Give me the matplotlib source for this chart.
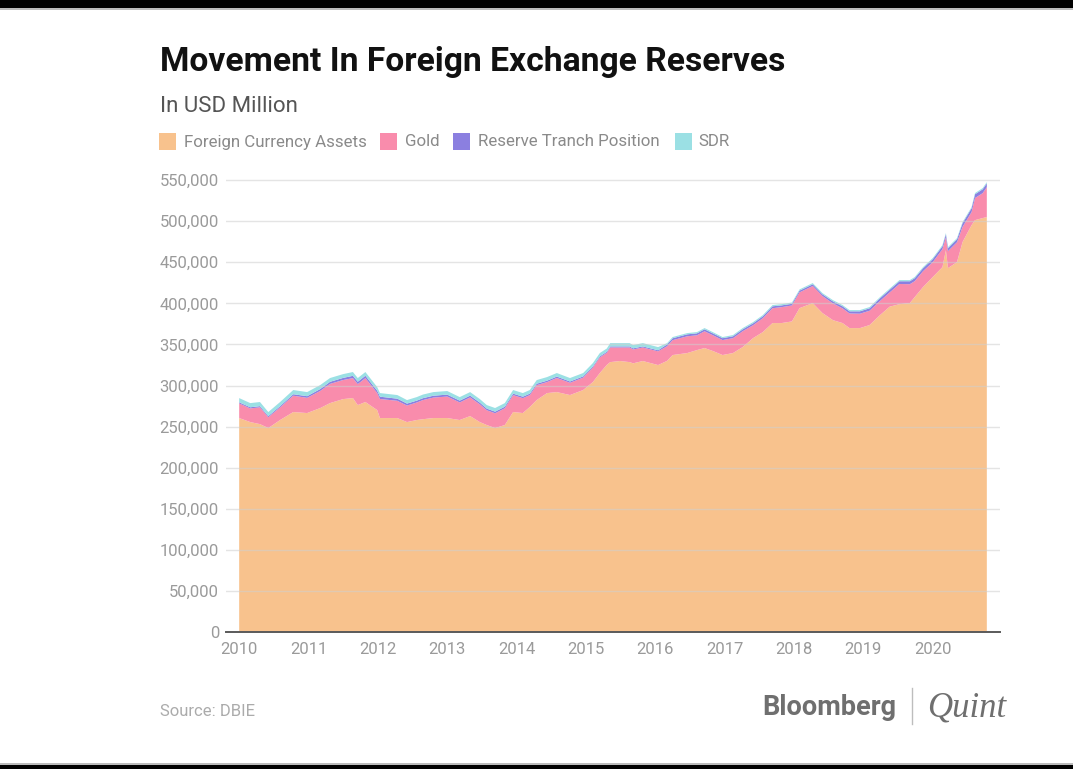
import matplotlib
matplotlib.use("Agg")
import matplotlib.pyplot as plt
from matplotlib.patches import Rectangle
from matplotlib.lines import Line2D
from matplotlib.ticker import FuncFormatter
import numpy as np

# ---- data (USD million) ----
dates = [2010.00, 2010.16, 2010.30, 2010.42, 2010.59, 2010.78, 2010.98,
         2011.17, 2011.31, 2011.50, 2011.64, 2011.71, 2011.82, 2011.99,
         2012.03, 2012.28, 2012.42, 2012.56, 2012.65, 2012.80,
         2013.00, 2013.18, 2013.33, 2013.47, 2013.57, 2013.69, 2013.83, 2013.95,
         2014.09, 2014.19, 2014.29, 2014.44, 2014.58, 2014.77, 2014.96,
         2015.10, 2015.20, 2015.30, 2015.35, 2015.49, 2015.63, 2015.68, 2015.82,
         2016.04, 2016.17, 2016.25, 2016.46, 2016.60, 2016.71, 2016.83, 2016.97,
         2017.12, 2017.26, 2017.41, 2017.55, 2017.69, 2017.82, 2017.97,
         2018.08, 2018.27, 2018.41, 2018.56, 2018.70, 2018.80, 2018.95,
         2019.09, 2019.24, 2019.38, 2019.52, 2019.67, 2019.74, 2019.86,
         2020.00, 2020.14, 2020.19, 2020.22, 2020.35, 2020.43, 2020.56,
         2020.61, 2020.72, 2020.78]

total_reserves = [284700, 278600, 279900, 267700, 279900, 294500, 292000,
                  300600, 309100, 313900, 316400, 309100, 316400, 298100,
                  290800, 288400, 282300, 285900, 289000, 292000,
                  293300, 285900, 292000, 283500, 276200, 272600, 278600, 294500,
                  290800, 294500, 306600, 310300, 315200, 309100, 315200,
                  327300, 339500, 345000, 351600, 351600, 351600, 349200, 351600,
                  346800, 351600, 359000, 363800, 365000, 369900, 365000, 359000,
                  361400, 369900, 377200, 385700, 397900, 399000, 401000,
                  417000, 424700, 412500, 404000, 397900, 391800, 391800,
                  395500, 407600, 418000, 428300, 428300, 432000, 444100,
                  455100, 470900, 485500, 468500, 479400, 498900, 517100,
                  534200, 540300, 547600]

foreign_currency_assets = [260400, 255500, 253000, 248200, 258000, 267700, 266500,
                           272600, 278600, 283500, 284700, 276200, 279900, 270100,
                           260400, 260400, 255500, 258000, 259000, 260400,
                           260400, 258000, 262800, 255500, 251900, 248200, 251900, 267700,
                           266500, 273800, 282300, 290800, 292000, 288400, 294500,
                           304200, 315200, 325000, 328500, 329800, 328500, 327000, 329800,
                           324900, 330000, 337100, 339500, 343100, 345600, 342000, 337100,
                           339500, 346800, 357700, 365000, 376000, 376000, 378000,
                           394200, 400300, 388200, 379600, 376000, 369900, 369900,
                           373600, 385700, 396000, 399000, 400300, 407600, 419800,
                           432000, 444100, 464800, 442900, 450200, 474600, 495200,
                           501300, 503800, 505000]

reserve_tranche = [1400, 1400, 1400, 1400, 1500, 1800, 2000,
                   2300, 2500, 2600, 2800, 2900, 2900, 2800,
                   2800, 2600, 2400, 2300, 2300, 2300,
                   2300, 2200, 2200, 2100, 2000, 2000, 1900, 1800,
                   1800, 1800, 1800, 1700, 1700, 1600, 1500,
                   1400, 1300, 1300, 1300, 1300, 1300, 1300, 1300,
                   1300, 2300, 2300, 2400, 2400, 2400, 2300, 2300,
                   2300, 2300, 2300, 2300, 2300, 2100, 2100,
                   2100, 2100, 2100, 2500, 2500, 2600, 2900,
                   3000, 3300, 3300, 3300, 3600, 3600, 3600,
                   3600, 3600, 3600, 3600, 3600, 4500, 4600,
                   4600, 4700, 4700]

sdr = [5100, 5100, 5000, 4900, 5000, 5100, 5000,
       4800, 4600, 4600, 4600, 4500, 4500, 4400,
       4400, 4400, 4300, 4300, 4400, 4400,
       4400, 4300, 4300, 4300, 4300, 4400, 4400, 4400,
       4400, 4400, 4400, 4400, 4300, 4200, 4100,
       4000, 4000, 4000, 4000, 4000, 4000, 4000, 4000,
       3900, 1500, 1500, 1500, 1500, 1500, 1500, 1400,
       1500, 1500, 1500, 1500, 1500, 1500, 1500,
       1500, 1500, 1500, 1500, 1500, 1500, 1500,
       1500, 1400, 1400, 1400, 1400, 1400, 1400,
       1400, 1400, 1400, 1400, 1400, 1400, 1400,
       1400, 1500, 1500]

series_names = ["Foreign Currency Assets", "Gold", "Reserve Tranch Position", "SDR"]
series_colors = ["#F8C28D", "#F98CAC", "#8B7FE0", "#9BE0E4"]

year_ticks = list(range(2010, 2021))
y_ticks = list(range(0, 550001, 50000))

# gold is the remainder between the total line and the other components
gold = [t - f - r - s for t, f, r, s in zip(total_reserves, foreign_currency_assets,
                                             reserve_tranche, sdr)]

# ---- figure ----
W, H = 1073, 769
fig = plt.figure(figsize=(W / 100, H / 100), dpi=100)
fig.patch.set_facecolor("white")
FONT = "Roboto"

def fx(px):
    return px / W

def fy(py):
    return 1 - py / H

# black frame bars top / bottom (screenshot border)
fig.patches.append(Rectangle((0, fy(8)), 1, 8 / H, transform=fig.transFigure,
                             facecolor="black", edgecolor="none"))
fig.patches.append(Rectangle((0, fy(10)), 1, 2 / H, transform=fig.transFigure,
                             facecolor="#bbbbbb", edgecolor="none"))
fig.patches.append(Rectangle((0, 0), 1, 4 / H, transform=fig.transFigure,
                             facecolor="black", edgecolor="none"))
fig.patches.append(Rectangle((0, 4 / H), 1, 2 / H, transform=fig.transFigure,
                             facecolor="#bbbbbb", edgecolor="none"))

ax_left, ax_right, ax_bottom, ax_top = 226, 1000, 632, 176
ax = fig.add_axes([fx(ax_left), fy(ax_bottom), (ax_right - ax_left) / W,
                   (ax_bottom - ax_top) / H])

ax.stackplot(dates, foreign_currency_assets, gold, reserve_tranche, sdr,
             colors=series_colors, linewidth=0, antialiased=True)

ax.set_xlim(2009.81, 2020.97)
ax.set_ylim(0, 555000)
ax.set_xticks(year_ticks)
ax.set_xticklabels([str(y) for y in year_ticks])
ax.set_yticks(y_ticks)
ax.yaxis.set_major_formatter(FuncFormatter(lambda v, p: f"{int(v):,}"))

for s in ["top", "right", "left"]:
    ax.spines[s].set_visible(False)
ax.spines["bottom"].set_color("#5a5a5a")
ax.spines["bottom"].set_linewidth(1.4)
ax.spines["bottom"].set_zorder(5)

ax.grid(axis="y", color="#cfcfcf", alpha=0.55, linewidth=1.0)
ax.grid(axis="x", visible=False)
ax.set_axisbelow(False)
ax.tick_params(axis="both", length=0, labelsize=12, labelcolor="#9a9a9a")
ax.tick_params(axis="y", pad=5)
ax.tick_params(axis="x", pad=7)
for lab in ax.get_xticklabels() + ax.get_yticklabels():
    lab.set_fontfamily(FONT)

# ---- titles ----
fig.text(fx(160), fy(71), "Movement In Foreign Exchange Reserves", fontsize=24.2,
         fontweight="bold", family=FONT, color="#111111", va="baseline", ha="left")
fig.text(fx(160), fy(112), "In USD Million", fontsize=16, family=FONT,
         color="#555555", va="baseline", ha="left")

# ---- legend ----
legend_sq_x = [159, 380, 453, 675]
legend_tx_x = [184, 405, 478, 698]
sq = 17
for name, col, sx, tx in zip(series_names, series_colors, legend_sq_x, legend_tx_x):
    fig.patches.append(Rectangle((fx(sx), fy(141 + sq / 2)), sq / W, sq / H,
                                 transform=fig.transFigure, facecolor=col,
                                 edgecolor="none"))
    fig.text(fx(tx), fy(146.5), name, fontsize=12.2, family=FONT, color="#8a8a8a",
             va="baseline", ha="left")

# ---- footer ----
fig.text(fx(160), fy(716), "Source: DBIE", fontsize=12, family=FONT,
         color="#ababab", va="baseline", ha="left")
fig.text(fx(896), fy(715), "Bloomberg", fontsize=19.5, family=FONT, fontweight="bold",
         color="#6f6f6f", va="baseline", ha="right")
fig.lines.append(Line2D([fx(912), fx(912)], [fy(688), fy(724)],
                        transform=fig.transFigure, color="#bdbdbd", linewidth=1))
fig.text(fx(927), fy(716), "Quint", fontsize=25, family="Liberation Serif",
         style="italic", color="#6f6f6f", va="baseline", ha="left")

fig.savefig("out.png", dpi=100, facecolor="white")
